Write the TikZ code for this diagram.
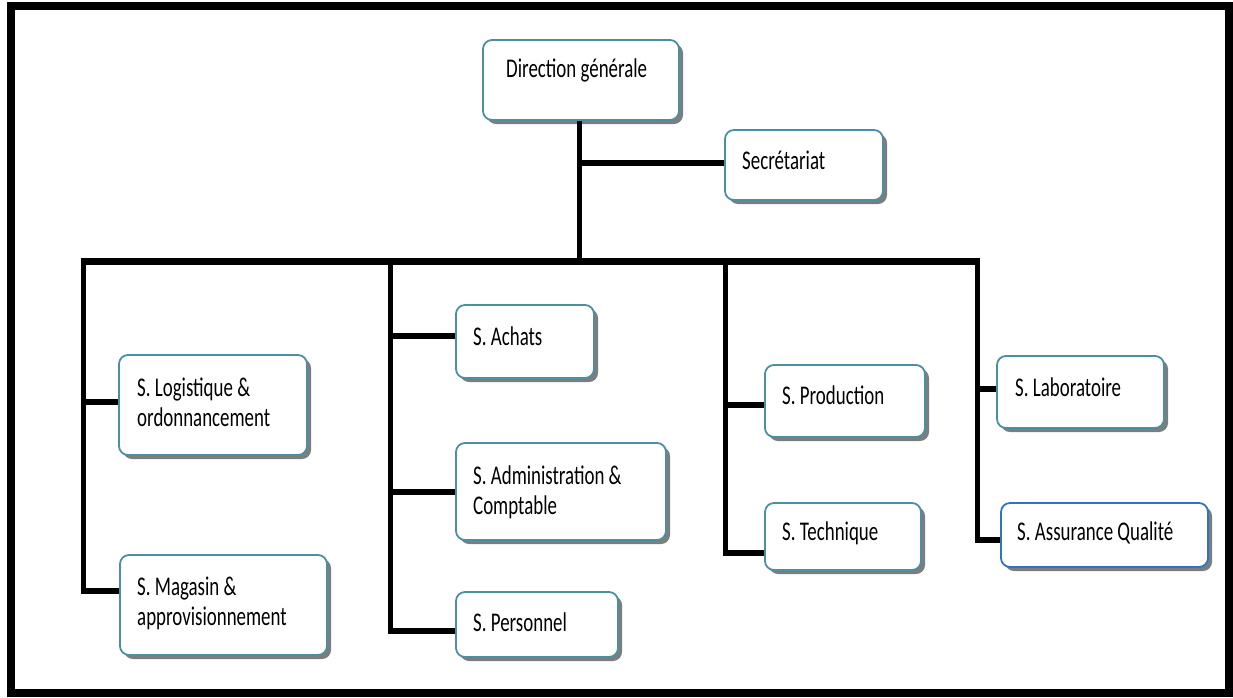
\documentclass[tikz,border=0pt]{standalone}
\usepackage{fontspec}
\setmainfont{Carlito}[FakeStretch=0.7]
\usetikzlibrary{shadows,calc}
\definecolor{boxteal}{HTML}{4A8FA3}
\definecolor{boxblue}{HTML}{2E73C4}
\tikzset{
  unit box/.style={draw=boxteal, line width=1.8pt, rounded corners=9pt, fill=white,
     drop shadow={shadow xshift=4pt, shadow yshift=-4pt, fill=black!60, opacity=0.85},
     inner sep=0pt},
  lbl/.style={anchor=west, align=left, inner sep=0pt, font=\fontsize{27}{30}\selectfont},
  bus/.style={line width=7pt},
  vline/.style={line width=5pt},
  branch/.style={line width=6.5pt},
}
\newcommand{\ubox}[6]{% name, x1, y1, x2, y2, style
  \node[unit box, #6, minimum width={#4-#2}, minimum height={#5-#3}] (#1) at ({(#2+#4)/2},{(#3+#5)/2}) {};}
\begin{document}
\begin{tikzpicture}[x=1pt,y=-1pt]
\useasboundingbox (0,0) rectangle (1233,697);
\draw[line width=8pt] (11,6) rectangle (1229,693);
\coordinate (busL) at (83,261);
\coordinate (busR) at (977,261);
\coordinate (c2top) at (390,261);
\coordinate (c3top) at (725,261);
\coordinate (trunk) at (579,261);
\coordinate (sj) at (579,163);
% boxes
\ubox{dir}{483}{40}{679}{120}{}
\ubox{sec}{725}{130}{883}{200}{}
\ubox{log}{119}{355}{307}{455}{}
\ubox{mag}{120}{555}{327}{655}{}
\ubox{ach}{456}{305}{594}{378}{}
\ubox{adm}{456}{443}{666}{540}{}
\ubox{per}{456}{592}{618}{657}{}
\ubox{pro}{765}{365}{925}{437}{}
\ubox{tec}{765}{503}{921}{570}{}
\ubox{lab}{997}{356}{1164}{428}{}
\ubox{aq}{1001}{503}{1208}{567}{draw=boxblue}
% labels
\node[lbl] (tdir) at (506,70) {Direction générale};
\node[lbl] (tsec) at (742,160) {Secrétariat};
\node[lbl] (tlog) at (137,402) {S. Logistique \&\\ordonnancement};
\node[lbl] (tmag) at (137,603) {S. Magasin \&\\approvisionnement};
\node[lbl] (tach) at (473,336) {S. Achats};
\node[lbl] (tadm) at (473,492) {S. Administration \&\\Comptable};
\node[lbl] (tper) at (473,622) {S. Personnel};
\node[lbl] (tpro) at (782,395) {S. Production};
\node[lbl] (ttec) at (782,533) {S. Technique};
\node[lbl] (tlab) at (1015,387) {S. Laboratoire};
\node[lbl] (taq) at (1017,533) {S. Assurance Qualité};
% trunk and bus
\draw[vline] (dir.south -| trunk) -- (trunk);
\draw[branch] (sj) -- (sec.west |- sj);
\draw[bus] ($(busL)+(-2.5,0)$) -- ($(busR)+(2.5,0)$);
% column 1
\draw[vline] (busL) -- (busL |- 0,593.5);
\draw[branch] (busL |- 0,402) -- (log.west |- 0,402);
\draw[branch] ($(busL |- 0,591)+(-2.5,0)$) -- (mag.west |- 0,591);
% column 2
\draw[vline] (c2top) -- (c2top |- 0,633.5);
\draw[branch] (c2top |- 0,336) -- (ach.west |- 0,336);
\draw[branch] (c2top |- 0,492) -- (adm.west |- 0,492);
\draw[branch] ($(c2top |- 0,631)+(-2.5,0)$) -- (per.west |- 0,631);
% column 3
\draw[vline] (c3top) -- (c3top |- 0,555.5);
\draw[branch] (c3top |- 0,405) -- (pro.west |- 0,405);
\draw[branch] ($(c3top |- 0,553)+(-2.5,0)$) -- (tec.west |- 0,553);
% column 4
\draw[vline] (busR) -- (busR |- 0,542.5);
\draw[branch] (busR |- 0,389) -- (lab.west |- 0,389);
\draw[branch] ($(busR |- 0,540)+(-2.5,0)$) -- (aq.west |- 0,540);
\end{tikzpicture}
\end{document}
